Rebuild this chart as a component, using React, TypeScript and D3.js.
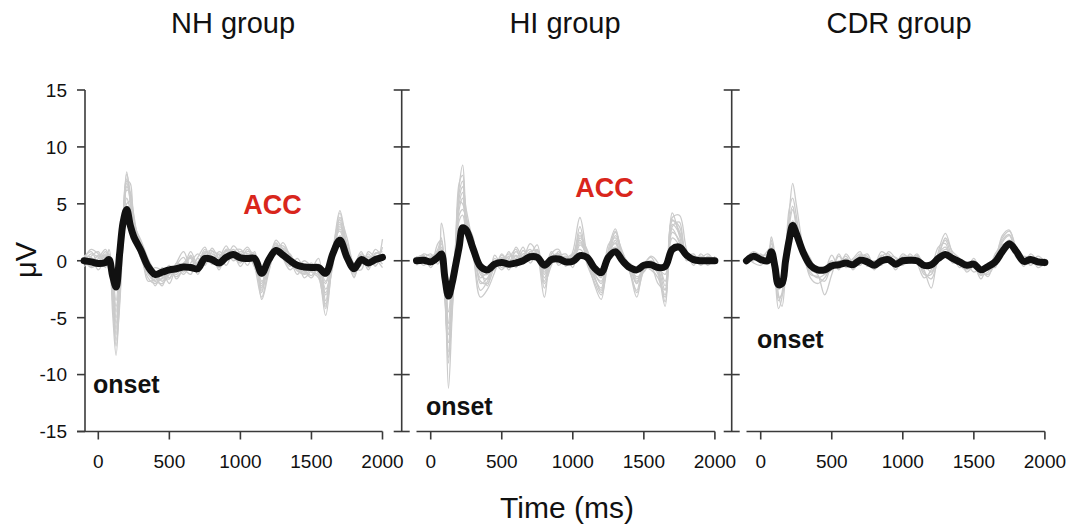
import React from 'react';
import * as d3 from 'd3';

// time grid (ms)
const TIMES = [-100, -50, 0, 50, 75, 100, 125, 150, 175, 200, 225, 250, 300, 350, 400, 450, 500, 550, 600, 650, 700, 750, 800, 850, 900, 950, 1000, 1050, 1100, 1150, 1200, 1250, 1300, 1350, 1400, 1450, 1500, 1550, 1600, 1650, 1700, 1750, 1800, 1850, 1900, 1950, 2000];

const GROUP_TITLES = ['NH group', 'HI group', 'CDR group'];
const Y_TICKS = [-15, -10, -5, 0, 5, 10, 15];
const X_TICKS = [0, 500, 1000, 1500, 2000];

// grand averages (µV)
const NH_MEAN = [0, -0.1, -0.25, -0.15, 0.1, -1.3, -2.3, 0.6, 3.4, 4.5, 3.1, 2.1, 0.9, -0.5, -1.2, -1.0, -0.8, -0.7, -0.55, -0.6, -0.7, 0.2, 0.1, -0.2, 0.3, 0.55, 0.25, 0.2, 0.2, -1.1, 0.1, 0.9, 0.5, 0.0, -0.4, -0.55, -0.6, -0.6, -1.1, 0.6, 1.8, 0.3, -0.7, 0.1, -0.2, 0.1, 0.3];
const HI_MEAN = [0, 0.05, -0.1, 0.3, 0.6, -1.5, -3.1, -2.0, -0.4, 1.2, 2.9, 2.7, 1.0, -0.5, -0.8, -0.3, -0.15, -0.3, -0.2, 0.0, 0.35, 0.3, -0.4, 0.1, 0.15, -0.1, -0.05, 0.45, 0.3, -0.6, -1.05, 0.3, 0.8, 0.0, -0.6, -0.8, -0.4, -0.35, -0.6, -0.5, 1.0, 1.2, 0.5, 0.1, 0.0, 0.0, 0.0];
const CDR_MEAN = [0, 0.4, 0.1, 0.0, 0.8, -0.5, -2.1, -2.0, 0.0, 1.8, 3.1, 2.4, 0.7, -0.4, -0.8, -0.8, -0.45, -0.35, -0.2, -0.35, 0.05, -0.1, -0.4, 0.0, 0.1, -0.3, 0.0, 0.05, 0.0, -0.4, -0.35, 0.2, 0.55, 0.2, -0.1, -0.4, -0.3, -0.8, -0.5, -0.1, 0.8, 1.5, 0.8, -0.05, 0.1, -0.1, -0.15];

// individual participants (µV)
const NH_1 = [0.3, 0.8, -0.2, 0.5, 0.2, -4.5, -8.3, -3, 3.5, 7.6, 6.0, 4.0, 0.5, -1.5, -2.0, -1.5, -1.2, -0.5, -1.0, 0.5, -0.8, 0.6, 0.9, -0.3, 1.0, 0.8, 0.2, 1.0, -0.5, -3.2, -0.5, 1.8, 1.0, 0.2, -0.6, -1.0, -0.3, -1.2, -4.8, 0.5, 4.4, 1.2, -1.5, 0.5, -0.8, 0.6, 0.8];
const NH_2 = [-0.2, 0.4, 0.8, -0.6, 0.5, -2.5, -6.5, -2.0, 2.5, 6.8, 5.5, 3.0, 1.5, -0.5, -1.8, -0.6, -1.5, -0.2, 0.8, -0.5, 0.3, 1.2, -0.2, 0.6, 0.2, 1.3, 0.6, -0.4, 0.8, -2.4, 0.4, 1.5, 0.2, -0.8, -0.2, -1.5, -0.8, 0.2, -3.5, 1.0, 3.6, 0.5, -1.0, -0.3, 0.4, -0.5, 1.9];
const NH_3 = [0.5, -0.5, 0.2, 1.0, 0.3, -1.5, -4.5, -1.0, 3.0, 5.5, 4.5, 3.5, 0.8, -0.8, -1.4, -2.2, -0.6, -1.0, -0.3, 0.2, -1.2, 0.2, 0.4, -0.8, 0.6, 0.3, -0.2, 0.6, 0.3, -1.8, -0.8, 1.2, 1.3, 0.5, -0.3, -0.8, -1.3, -0.5, -2.5, -0.2, 3.0, 1.5, -0.3, 0.8, -0.6, 0.2, -0.3];
const NH_4 = [-0.3, 0.2, -0.5, 0.6, -0.4, -3.5, -7.5, -4.0, 2.0, 7.0, 6.8, 3.2, 1.8, 0.2, -1.0, -1.8, -1.0, -1.4, -0.8, -1.2, 0.2, -0.4, 0.8, 0.5, -0.4, 0.8, 1.0, 0.2, -0.2, -2.8, 0.2, 0.6, 1.6, 0.3, -1.2, -0.4, -1.0, -1.5, -4.2, 1.2, 2.6, 0.2, -1.4, 0.2, 0.3, -0.4, 0.5];
const NH_5 = [0.2, 1.0, 0.6, -0.2, 1.0, -1.0, -3.5, -0.5, 2.0, 4.0, 4.8, 2.5, 0.2, -1.0, -0.6, -0.9, -2.0, -0.4, 0.3, -0.8, -0.3, 1.0, -0.3, 0.2, 1.3, 0.2, 0.4, 0.8, 0.6, -1.0, -0.3, 1.4, 0.3, -0.5, 0.2, -0.6, -0.2, -0.8, -2.0, 0.4, 2.2, 1.0, -0.6, -0.8, 0.8, 0.2, -0.6];
const NH_6 = [-0.5, 0.0, 0.4, 0.2, -0.8, -2.0, -5.5, -2.5, 4.0, 7.8, 5.0, 2.2, 1.0, -1.8, -1.6, -1.2, -0.4, -1.6, -0.6, 0.4, -0.6, 0.4, 0.2, -0.6, 0.5, 0.6, -0.5, 0.4, 0.2, -3.4, -1.0, 1.0, 0.6, -0.2, -0.8, -1.2, -0.7, -0.3, -3.0, -0.5, 3.8, 2.0, -0.2, 0.4, -0.2, 1.0, 0.2];
const NH_7 = [0.1, -0.6, -0.2, 0.8, 0.0, -2.8, -6.0, -1.5, 3.2, 6.2, 6.0, 3.8, 0.2, -0.4, -2.2, -1.0, -0.8, -0.6, -1.2, -0.2, 0.6, 0.0, 1.1, 0.2, 0.0, 0.4, 0.8, 0.6, -0.6, -2.0, 0.5, 0.8, 0.9, 0.6, -0.5, 0.0, -0.5, -1.0, -4.0, 0.0, 4.2, 0.8, -0.8, -0.4, 0.6, -0.2, 1.2];
const NH_8 = [0.4, 0.3, -0.8, 0.3, 0.6, -1.8, -4.0, -2.2, 1.5, 5.0, 5.2, 3.0, 1.2, -0.2, -1.2, -1.4, -1.6, -0.2, -0.4, 0.8, -0.4, 0.8, 0.4, -0.2, 0.8, 0.0, 0.5, 1.2, 0.0, -1.4, 0.2, 1.2, 0.8, -0.4, -0.2, -0.9, -1.5, -0.6, -1.8, 0.8, 2.8, 0.6, -1.2, 0.0, -0.4, 0.4, 0.0];
const NH_9 = [-0.1, 0.6, 0.3, -0.4, 0.4, -3.0, -7.0, -3.5, 2.8, 6.5, 5.8, 3.5, 1.4, -1.2, -1.8, -2.0, -1.2, -0.8, -0.5, -0.6, -0.1, 0.7, 0.6, 0.3, 0.9, 0.5, 0.0, 0.2, 0.5, -2.6, -0.2, 1.6, 0.5, 0.0, -0.9, -1.1, -0.4, -0.9, -3.8, 0.3, 3.2, 1.4, -0.9, 0.6, 0.1, -0.1, 0.6];
const NH_10 = [0.2, -0.2, 0.5, 0.4, 0.2, -2.2, -5.0, -1.8, 3.6, 7.2, 5.2, 2.8, 0.6, -0.6, -1.5, -1.6, -0.9, -1.2, -0.2, 0.3, -0.5, 0.5, 0.0, 0.8, 0.4, 1.0, 0.3, 0.5, -0.3, -2.2, 0.0, 1.0, 1.1, 0.4, -0.4, -0.6, -0.9, -1.3, -2.8, 0.6, 3.4, 0.4, -0.4, 0.2, -0.5, 0.7, 0.4];

const HI_1 = [0.2, 0.5, -0.3, 1.5, 1.8, -2.0, -11.2, -5.0, 1.0, 6.5, 8.4, 4.0, 0.5, -3.2, -2.5, -1.0, 0.5, -0.5, 1.2, 0.3, 1.5, 0.5, -3.2, 0.6, 1.0, -0.5, 0.8, 3.8, 0.5, -2.0, -3.4, 1.0, 2.8, 0.2, -1.0, -3.2, -0.8, -0.5, -2.0, -2.5, 3.8, 4.0, 1.0, -0.4, 0.6, 0.0, 0.2];
const HI_2 = [-0.3, 0.6, 0.4, 0.8, 1.5, -2.5, -8.0, -3.5, 0.5, 5.5, 6.5, 4.5, 1.5, -0.8, -2.2, 0.5, -0.4, 0.8, -0.6, 0.9, 0.2, 1.0, -1.5, 0.2, 0.4, 0.6, -0.3, 2.0, 1.0, -1.2, -2.8, 0.4, 2.5, 0.6, -0.4, -2.0, -0.3, 0.3, -1.0, -4.0, 4.2, 2.2, 0.4, 0.6, -0.3, 0.4, -0.2];
const HI_3 = [0.4, -0.4, 0.2, 0.2, 3.3, 1.5, -6.5, -4.0, 0.0, 4.5, 5.5, 3.0, 0.8, -1.5, -1.0, -0.8, 0.3, -0.8, 0.5, -0.3, 0.8, 0.4, -0.8, 0.8, -0.4, 0.2, 0.6, 1.0, 0.2, -0.8, -1.5, 0.8, 1.5, -0.4, -0.5, -1.4, -1.0, -0.2, -0.6, -1.2, 2.5, 1.8, 0.2, 0.0, 0.3, -0.4, 0.4];
const HI_4 = [0.0, 0.3, -0.6, 0.6, 0.8, -3.0, -9.0, -2.5, 1.5, 6.0, 7.0, 3.5, 2.0, -2.0, -1.5, -0.2, -0.8, 0.2, 1.0, -0.2, 0.5, 1.4, -2.0, -0.4, 0.8, -0.2, 0.3, 2.5, -0.3, -1.8, -3.0, 0.0, 2.2, 0.8, -0.9, -2.6, -0.6, -0.8, -1.5, -3.2, 3.5, 3.0, 0.6, 0.3, -0.4, 0.2, 0.0];
const HI_5 = [-0.4, 0.2, 0.6, -0.3, 0.2, -2.0, -5.5, -1.5, 0.8, 4.0, 4.5, 3.8, 1.2, -0.4, -0.6, -0.6, 0.6, -0.2, -0.2, 0.4, 1.0, 0.0, -0.4, 0.4, 0.2, 0.4, -0.6, 1.4, 0.6, -0.6, -1.2, 0.6, 1.2, -0.2, -0.2, -0.8, -0.2, -0.6, -0.4, -1.8, 2.0, 1.4, 0.8, -0.2, 0.2, 0.6, -0.2];
const HI_6 = [0.1, -0.2, 0.0, 1.0, 2.0, -3.5, -7.2, -3.0, 1.0, 5.0, 6.0, 2.8, 0.4, -2.6, -1.8, -0.4, 0.0, 0.6, 0.2, 1.2, -0.2, 0.6, -2.4, 0.0, 0.6, 0.0, 0.4, 3.0, 0.0, -1.5, -2.4, 1.4, 2.0, 0.4, -0.6, -2.0, -0.4, 0.0, -0.8, -3.6, 3.0, 3.4, 0.0, 0.4, 0.0, -0.2, 0.3];
const HI_7 = [0.3, 0.4, -0.2, 0.4, 1.2, -1.2, -4.5, -2.0, 0.2, 3.5, 4.0, 2.5, 0.6, -1.0, -1.2, 0.2, -0.6, -0.4, 0.8, 0.0, 0.3, 0.8, -1.0, 0.5, -0.2, 0.3, 0.0, 1.6, 0.4, -1.0, -2.0, 0.2, 1.8, 0.0, -0.3, -1.6, -0.5, 0.4, -0.2, -2.2, 2.8, 1.6, 0.3, 0.2, 0.4, -0.3, 0.1];
const HI_8 = [-0.2, 0.0, 0.3, 0.6, 1.8, -2.8, -8.5, -4.5, 1.2, 6.8, 7.5, 3.2, 1.0, -1.8, -2.0, -0.5, 0.2, 0.2, -0.4, 0.6, 0.6, 0.2, -1.8, 0.3, 0.6, -0.4, 0.2, 2.2, 0.8, -1.4, -2.6, 0.6, 2.6, 0.4, -0.8, -2.8, -0.9, -0.3, -1.2, -3.0, 3.6, 2.6, 0.5, -0.1, 0.1, 0.3, 0.2];
const HI_9 = [0.0, 0.4, 0.1, 0.9, 1.0, -2.2, -6.0, -3.0, 1.0, 5.2, 5.0, 3.4, 1.6, -1.2, -1.6, -0.2, -0.2, 0.4, 0.4, 0.2, 0.8, 0.9, -1.2, 0.3, 0.2, 0.1, 0.5, 1.8, 0.3, -1.1, -1.8, 0.5, 1.6, 0.3, -0.5, -1.8, -0.6, -0.1, -0.7, -2.6, 3.2, 2.4, 0.6, 0.2, 0.0, 0.1, 0.0];

const CDR_1 = [0.3, 0.8, 0.5, 0.6, 2.1, 0.5, -3.0, -4.0, -1.0, 4.0, 6.8, 5.0, 1.0, -1.5, -2.0, -1.5, -0.5, -0.2, 0.4, -0.6, 0.5, 0.2, -0.8, 0.4, 0.6, -0.6, 0.3, -0.2, 0.5, -0.8, -2.4, 0.8, 2.4, 0.6, -0.4, -0.8, -0.2, -1.2, -1.0, 0.2, 2.0, 2.6, 1.0, -0.5, 0.4, -0.6, -0.2];
const CDR_2 = [-0.3, 0.5, -0.2, 0.6, 1.5, -0.8, -3.5, -2.8, 0.5, 3.0, 4.5, 3.5, 0.5, -0.8, -1.2, -3.0, -1.2, 0.4, -0.4, 0.2, 0.8, -0.5, 0.0, -0.4, 0.8, 0.2, -0.4, 0.6, -0.2, -1.5, -0.8, 1.2, 1.5, -0.2, 0.0, -1.0, -0.5, -1.6, -0.4, -0.6, 1.6, 2.2, 0.6, 0.2, -0.4, 0.2, -0.5];
const CDR_3 = [0.2, 0.0, 0.6, -0.3, 0.6, -0.5, -2.5, -2.2, -0.2, 2.5, 3.5, 2.8, 1.2, 0.2, -1.0, -0.8, 0.5, -0.6, 0.2, -0.8, 0.2, 0.6, -0.6, 0.5, 0.0, -0.2, 0.6, 0.2, 0.4, -0.2, -1.0, 0.4, 1.0, 0.5, -0.6, -0.2, -0.6, -0.8, -1.4, 0.4, 1.2, 1.8, 1.2, -0.3, 0.6, 0.0, -0.3];
const CDR_4 = [-0.1, 0.6, 0.2, 0.9, 1.2, -1.2, -4.2, -3.2, 0.5, 4.5, 5.5, 4.0, 0.2, -1.0, -1.5, -1.2, -0.8, 0.6, -0.6, 0.0, 0.6, 0.0, -0.3, 0.8, 0.3, -0.8, 0.2, 0.4, 0.0, -1.0, -1.6, 0.2, 2.0, 0.8, 0.2, -0.6, 0.2, -1.0, -1.2, -0.2, 2.2, 2.7, 0.8, 0.0, -0.2, 0.4, -0.1];
const CDR_5 = [0.4, -0.2, -0.4, 0.3, 0.9, -0.2, -2.0, -1.5, 0.2, 2.0, 3.0, 2.2, 0.8, -0.4, -0.6, -0.6, 0.0, -0.8, 0.6, -0.2, -0.4, 0.3, -0.2, 0.1, 0.4, 0.3, -0.2, 0.0, 0.6, -0.4, -0.6, 0.6, 1.2, 0.0, -0.3, -0.3, -1.0, -0.6, -0.8, 0.6, 1.4, 1.6, 0.3, 0.4, 0.2, -0.4, 0.2];
const CDR_6 = [0.0, 0.3, 0.2, 0.2, 1.8, -0.6, -3.2, -3.0, 0.0, 3.5, 4.8, 3.0, 0.6, -1.2, -1.4, -1.8, -0.4, 0.0, 0.0, -0.4, 0.4, 0.4, -0.6, 0.2, 0.4, -0.4, 0.4, 0.3, 0.2, -1.2, -1.2, 0.6, 1.8, 0.3, -0.2, -0.6, -0.4, -1.3, -0.6, 0.0, 1.8, 2.3, 0.7, -0.2, 0.1, 0.0, -0.4];

const NH_TRACES = [NH_1, NH_2, NH_3, NH_4, NH_5, NH_6, NH_7, NH_8, NH_9, NH_10];
const HI_TRACES = [HI_1, HI_2, HI_3, HI_4, HI_5, HI_6, HI_7, HI_8, HI_9];
const CDR_TRACES = [CDR_1, CDR_2, CDR_3, CDR_4, CDR_5, CDR_6];

// layout
const W = 1083, H = 525;
const Y_TOP = 90, Y_BOTTOM = 431.5;
const PANEL_W = 298.4;
const LAYOUT = [
  { x0: 84.1, axisX: 85, titleX: 233, onset: [93, 393], acc: [272.5, 214] as number[] | null, first: true },
  { x0: 416.5, axisX: 401.7, titleX: 565, onset: [426, 415], acc: [604.5, 197] as number[] | null, first: false },
  { x0: 746.5, axisX: 731.7, titleX: 899, onset: [757, 347.7], acc: null as number[] | null, first: false },
];
const MEANS = [NH_MEAN, HI_MEAN, CDR_MEAN];
const TRACES = [NH_TRACES, HI_TRACES, CDR_TRACES];

const AXIS = '#3a3a3a';
const FONT = 'Liberation Sans, Arial, Helvetica, sans-serif';

export default function App() {
  const y = d3.scaleLinear().domain([-15, 15]).range([Y_BOTTOM, Y_TOP]);
  return (
    <svg width={W} height={H} style={{ position: 'absolute', left: 0, top: 0, background: '#fff' }}>
      {LAYOUT.map((L, p) => {
        const x = d3.scaleLinear().domain([-100, 2000]).range([L.x0, L.x0 + PANEL_W]);
        const line = d3
          .line<number>()
          .x((_, i) => x(TIMES[i]))
          .y((d) => y(d))
          .curve(d3.curveCatmullRom.alpha(0.5));
        const xStart = L.first ? L.axisX - 8 : x(-100);
        return (
          <g key={p}>
            <text x={L.titleX} y={33} textAnchor="middle" fontFamily={FONT} fontSize={29} fill="#111">
              {GROUP_TITLES[p]}
            </text>
            {/* y axis */}
            <line x1={L.axisX} x2={L.axisX} y1={Y_TOP} y2={Y_BOTTOM} stroke={AXIS} strokeWidth={1.6} />
            {Y_TICKS.map((t) => (
              <g key={t}>
                <line x1={L.axisX - 8} x2={L.first ? L.axisX : L.axisX + 8} y1={y(t)} y2={y(t)} stroke={AXIS} strokeWidth={1.6} />
                {L.first && (
                  <text x={L.axisX - 18} y={y(t)} dy="0.36em" textAnchor="end" fontFamily={FONT} fontSize={19} fill="#111">
                    {t}
                  </text>
                )}
              </g>
            ))}
            {/* x axis */}
            <line x1={xStart} x2={x(2000)} y1={Y_BOTTOM} y2={Y_BOTTOM} stroke={AXIS} strokeWidth={1.6} />
            {X_TICKS.map((t) => (
              <g key={t}>
                <line x1={x(t)} x2={x(t)} y1={Y_BOTTOM} y2={Y_BOTTOM + 8} stroke={AXIS} strokeWidth={1.6} />
                <text x={x(t)} y={468} textAnchor="middle" fontFamily={FONT} fontSize={19} fill="#111">
                  {t}
                </text>
              </g>
            ))}
            {/* traces */}
            {TRACES[p].map((tr, i) => (
              <path key={i} d={line(tr) || ''} fill="none" stroke="#cbcbcb" strokeWidth={1.3} />
            ))}
            <path d={line(MEANS[p]) || ''} fill="none" stroke="#111" strokeWidth={7} strokeLinecap="round" strokeLinejoin="round" />
            <text x={L.onset[0]} y={L.onset[1]} fontFamily={FONT} fontWeight="bold" fontSize={25} fill="#111">
              onset
            </text>
            {L.acc && (
              <text x={L.acc[0]} y={L.acc[1]} textAnchor="middle" fontFamily={FONT} fontWeight="bold" fontSize={27} fill="#d9261c">
                ACC
              </text>
            )}
          </g>
        );
      })}
      <text transform="translate(36,260) rotate(-90)" textAnchor="middle" fontFamily={FONT} fontSize={29} fill="#111">
        μV
      </text>
      <text x={567} y={518} textAnchor="middle" fontFamily={FONT} fontSize={30} fill="#111">
        Time (ms)
      </text>
    </svg>
  );
}
